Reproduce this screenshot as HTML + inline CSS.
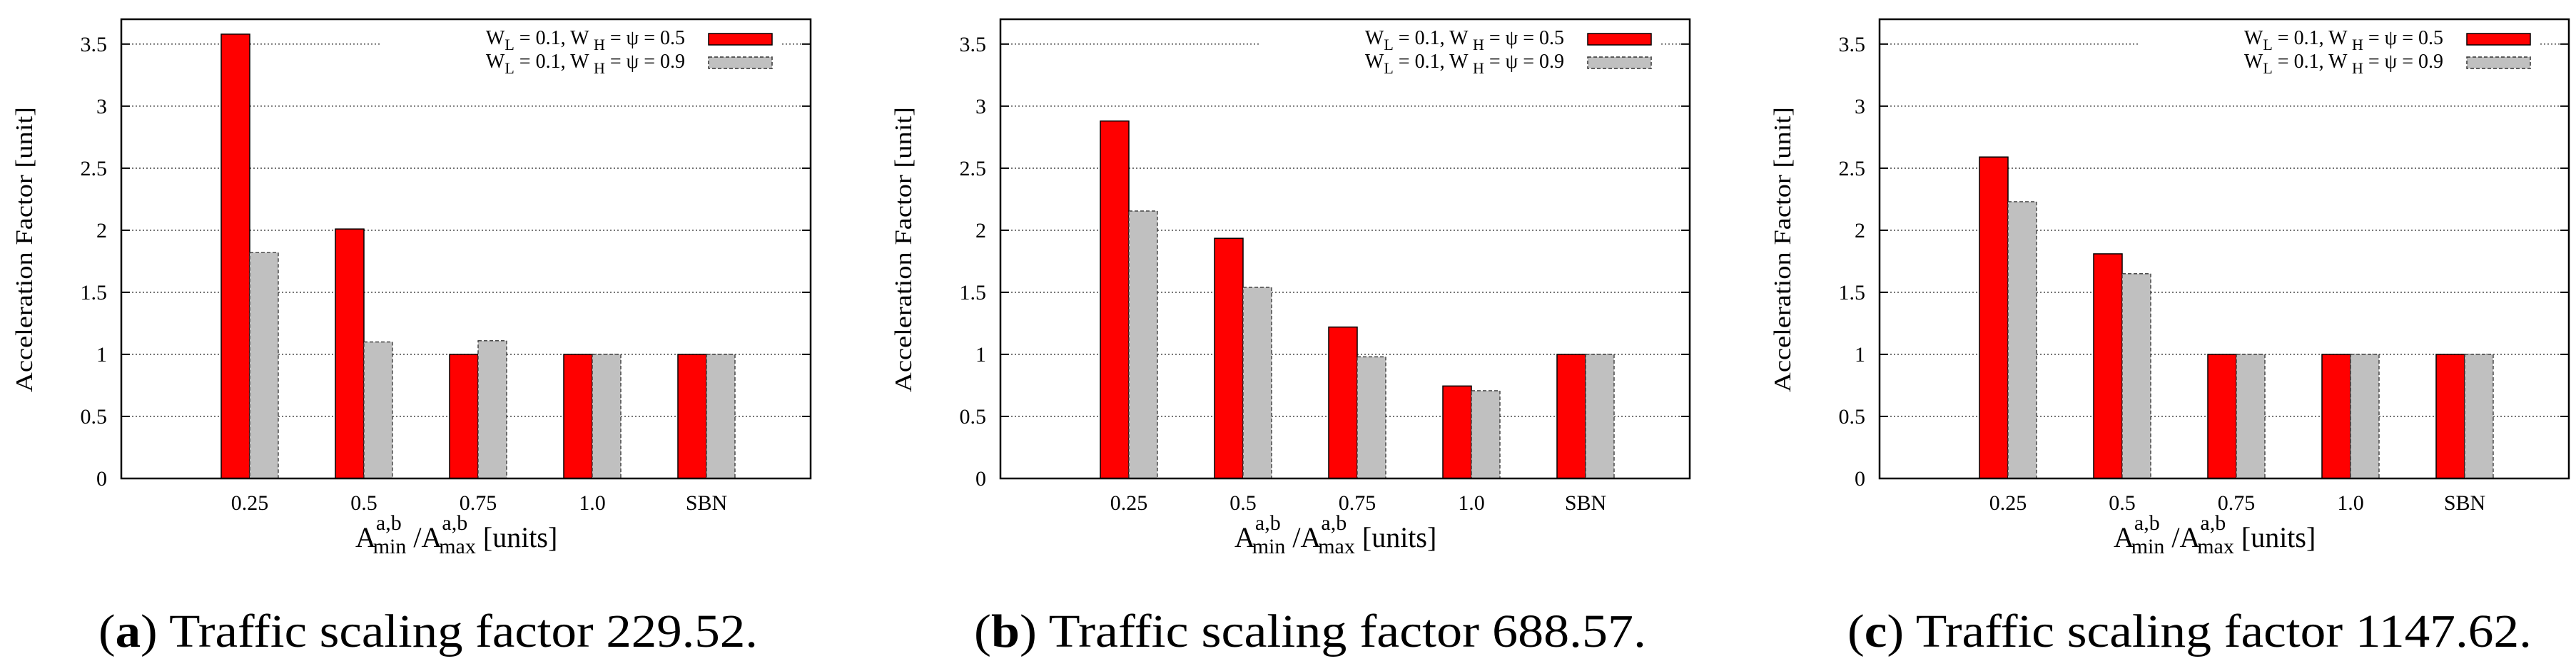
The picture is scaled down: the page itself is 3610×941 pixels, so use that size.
<!DOCTYPE html>
<html><head><meta charset="utf-8"><style>
html,body{margin:0;padding:0;background:#fff;}
svg{display:block;font-family:"Liberation Serif",serif;}
</style></head><body>
<svg id="fig" width="3610" height="941" viewBox="0 0 3610 941" xmlns="http://www.w3.org/2000/svg"></svg>
<script>
const categories = ["0.25","0.5","0.75","1.0","SBN"];
const yTicks = [0,0.5,1,1.5,2,2.5,3,3.5];
const yTickLabels = ["0","0.5","1","1.5","2","2.5","3","3.5"];
const seriesNames = ["psi-0.5","psi-0.9"];
const panelA_red = [3.58,2.01,1.0,1.0,1.0];
const panelA_grey = [1.82,1.10,1.11,1.0,1.0];
const panelB_red = [2.88,1.935,1.22,0.745,1.0];
const panelB_grey = [2.155,1.54,0.98,0.707,1.0];
const panelC_red = [2.59,1.81,1.0,1.0,1.0];
const panelC_grey = [2.23,1.65,1.0,1.0,1.0];
const captionLetters = ["a","b","c"];
const captionTexts = ["Traffic scaling factor 229.52.","Traffic scaling factor 688.57.","Traffic scaling factor 1147.62."];

const NS="http://www.w3.org/2000/svg";
const svg=document.getElementById('fig');
function mk(tag,attrs,parent){const e=document.createElementNS(NS,tag);for(const k in attrs)e.setAttribute(k,attrs[k]);(parent||svg).appendChild(e);return e;}

const panels=[
 {left:170,red:panelA_red,grey:panelA_grey,capX:138,capW:924},
 {left:1402,red:panelB_red,grey:panelB_grey,capX:1365,capW:942},
 {left:2634,red:panelC_red,grey:panelC_grey,capX:2589,capW:959}
];
const W=966, TOP=27, BOT=671, YMAX=3.7;
panels.forEach((p,pi)=>{
  const g=mk('g',{});
  
  
  const L=p.left,R=p.left+W;
  const y=v=>BOT-(v/YMAX)*(BOT-TOP);
  const x=i=>L+180+i*160;
  yTicks.forEach((t,i)=>{
    const yy=y(t);
    if(t>0){
      const x2 = (t===3.5)? L+364 : R;
      const gl=mk('line',{x1:L,y1:yy,x2:x2,y2:yy,stroke:'#333','stroke-width':1.4,'stroke-dasharray':'2,3'},g);
      
      
      if(t===3.5){mk('line',{x1:R-40,y1:yy,x2:R,y2:yy,stroke:'#333','stroke-width':1.4,'stroke-dasharray':'2,3'},g);}
      mk('line',{x1:L,y1:yy,x2:L+12,y2:yy,stroke:'#000','stroke-width':2},g);
      mk('line',{x1:R-12,y1:yy,x2:R,y2:yy,stroke:'#000','stroke-width':2},g);
    }
    const tl=mk('text',{x:L-20,y:yy+10,'font-size':30,'text-anchor':'end'},g);
    tl.textContent=yTickLabels[i];
    
    
  });
  categories.forEach((c,i)=>{
    const r=mk('rect',{x:x(i)-40,y:y(p.red[i]),width:40,height:BOT-y(p.red[i]),fill:'#ff0000',stroke:'#000','stroke-width':1.5},g);
    
    
    const gr=mk('rect',{x:x(i),y:y(p.grey[i]),width:40,height:BOT-y(p.grey[i]),fill:'#c0c0c0',stroke:'#333','stroke-width':1.3,'stroke-dasharray':'5,3'},g);
    
    
    const xl=mk('text',{x:x(i),y:715,'font-size':30,'text-anchor':'middle'},g);
    xl.textContent=c;
    
    
  });
  const fr=mk('rect',{x:L,y:TOP,width:W,height:BOT-TOP,fill:'none',stroke:'#000','stroke-width':2.5},g);
  
  
  const lg=mk('g',{},g);
  
  
  [["0.5",'#ff0000','#000',''],["0.9",'#c0c0c0','#333','5,3']].forEach((s,k)=>{
    const by=47+k*33;
    const t=mk('text',{x:L+790,y:by+15,'font-size':28,'text-anchor':'end'},lg);
    t.innerHTML='W<tspan font-size="22" dy="8">L</tspan><tspan dy="-8"> = 0.1, W </tspan><tspan font-size="22" dy="8">H</tspan><tspan dy="-8"> = ψ = '+s[0]+'</tspan>';
    
    
    const b=mk('rect',{x:L+823,y:by,width:89,height:16,fill:s[1],stroke:s[2],'stroke-width':1.5,'stroke-dasharray':s[3]},lg);
    
    
  });
  const yt=mk('text',{x:0,y:0,'font-size':34,'text-anchor':'middle',transform:'translate('+(L-125)+',350) rotate(-90)',textLength:400,lengthAdjust:'spacingAndGlyphs'},g);
  yt.textContent='Acceleration Factor [unit]';
  
  
  const xt=mk('text',{x:L+328,y:767,'font-size':40},g);
  xt.innerHTML='A<tspan font-size="30" dy="-24">a,b</tspan><tspan font-size="30" dx="-40" dy="33">min</tspan><tspan dy="-9"> /A</tspan><tspan font-size="30" dy="-24">a,b</tspan><tspan font-size="30" dx="-40" dy="33">max</tspan><tspan dy="-9"> [units]</tspan>';
  
  
  const cp=mk('text',{x:p.capX,y:907,'font-size':66,textLength:p.capW,lengthAdjust:'spacingAndGlyphs'},g);
  cp.innerHTML='(<tspan font-weight="bold">'+captionLetters[pi]+'</tspan>) '+captionTexts[pi];
  
  
});
</script>
</body></html>
